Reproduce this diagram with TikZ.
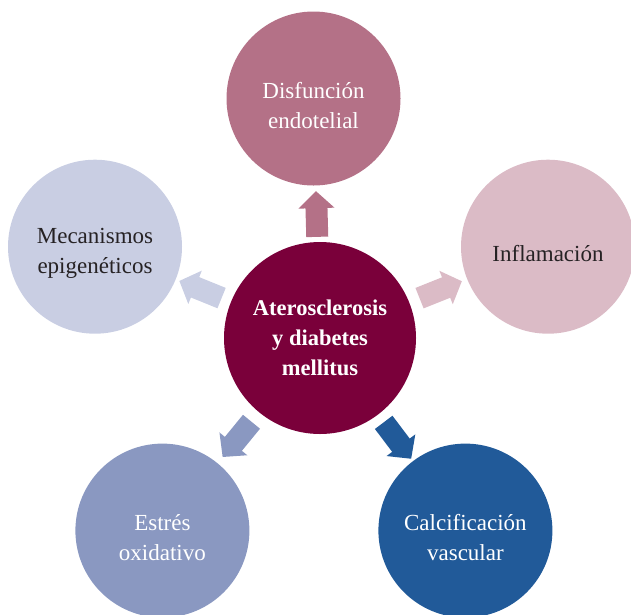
\documentclass[tikz,border=0pt]{standalone}
\usepackage{fontspec}
\setmainfont{Liberation Serif}
\usepackage{xcolor}
\usepackage{tikz}
\usetikzlibrary{arrows.meta,positioning}
\definecolor{hubred}{RGB}{122,0,58}
\definecolor{mauve}{RGB}{180,113,135}
\definecolor{softpink}{RGB}{219,187,198}
\definecolor{lavender}{RGB}{201,206,227}
\definecolor{periwinkle}{RGB}{138,152,193}
\definecolor{deepblue}{RGB}{33,90,153}
\definecolor{inkgray}{RGB}{38,34,36}
\tikzset{
  hub/.style={circle,fill=hubred,minimum size=192pt,inner sep=0pt,align=center,
              text=white,font=\fontsize{22.5}{30}\selectfont\bfseries},
  topic/.style={circle,fill=#1,minimum size=174pt,inner sep=0pt},
  tlight/.style={align=center,text=white,yshift=-7pt,font=\fontsize{23}{30}\selectfont},
  tdark/.style={align=center,text=inkgray,yshift=-7pt,font=\fontsize{23}{30}\selectfont},
  flow/.style={line width=22pt,-{Triangle[length=17pt,width=35pt]},draw=#1},
}
\begin{document}
\begin{tikzpicture}[x=1pt,y=-1pt]
  \useasboundingbox (0,0) rectangle (631,614);
  \clip (0,0) rectangle (631,614);

  \node[hub] (ather) at (320,338) {Aterosclerosis\\y diabetes\\mellitus};
  \node[topic=mauve,label={[tlight]center:{Disfunción\\endotelial}}] (disf) at (313.5,98.5) {};
  \node[topic=softpink,label={[tdark]center:{Inflamación}}] (infl) at (548,246.7) {};
  \node[topic=lavender,label={[tdark]center:{Mecanismos\\epigenéticos}}] (epig) at (95,246.7) {};
  \node[topic=periwinkle,label={[tlight]center:{Estrés\\oxidativo}}] (oxid) at (162.4,530.6) {};
  \node[topic=deepblue,label={[tlight]center:{Calcificación\\vascular}}] (calc) at (465.4,530.6) {};

  \draw[flow=mauve,shorten <=5pt,shorten >=5.5pt] (ather) -- (disf);
  \draw[flow=softpink,shorten <=11pt,shorten >=5.6pt] (ather) -- (infl);
  \draw[flow=lavender,shorten <=10pt,shorten >=3.8pt] (ather) -- (epig);
  \draw[flow=periwinkle,shorten <=12pt,shorten >=7.9pt] (ather) -- (oxid);
  \draw[flow=deepblue,shorten <=9.5pt,shorten >=2.8pt] (ather) -- (calc);
\end{tikzpicture}
\end{document}
